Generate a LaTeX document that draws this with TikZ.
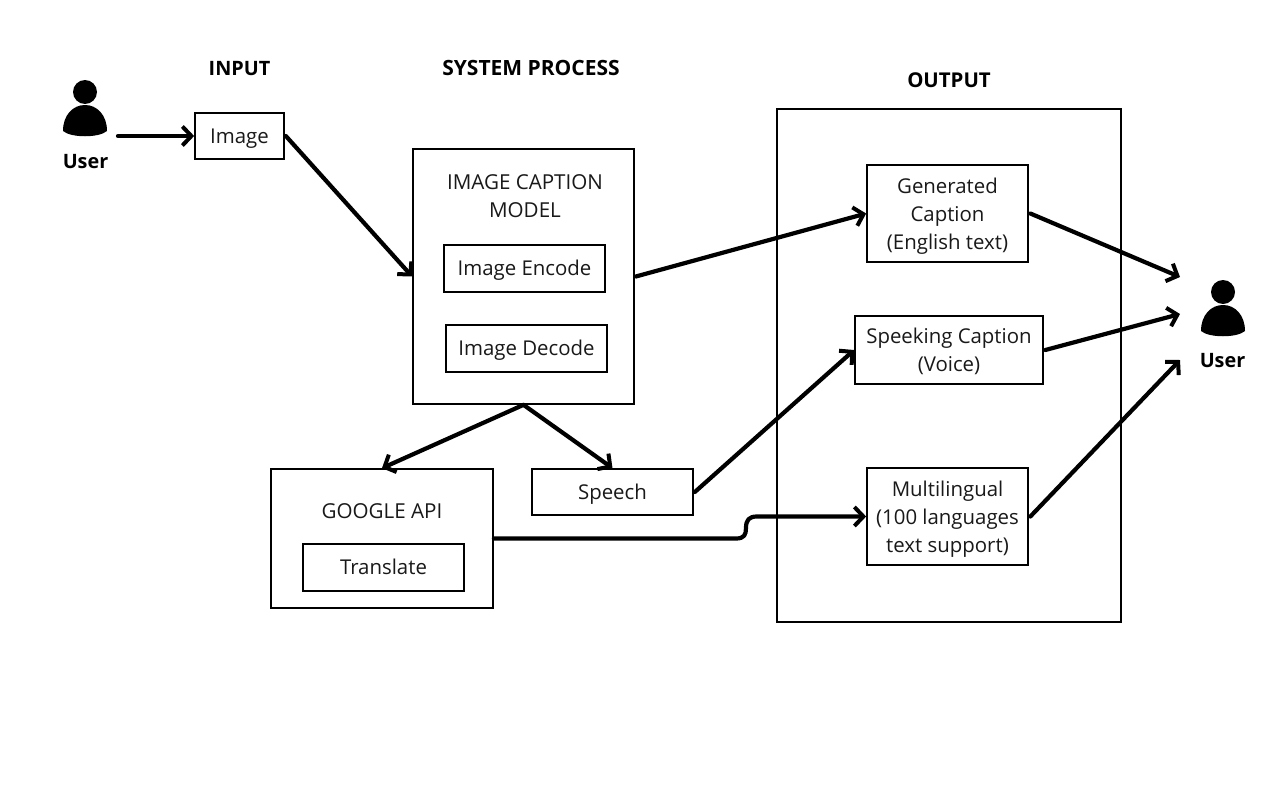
\documentclass[tikz,border=0pt]{standalone}
\usepackage{fontspec}
\setmainfont{Open Sans}
\usetikzlibrary{arrows.meta}
\tikzset{
  x=1pt,y=-1pt,
  box/.style={draw=black,line width=1.7pt,inner sep=0pt,align=center,font=\fontsize{20.4}{28}\selectfont,text=black!90},
  single/.style={text height=18pt,text depth=4pt},
  threeline/.style={text height=76pt},
  twoline/.style={text height=47pt},
  plain/.style={inner sep=0pt,align=center,font=\fontsize{20.6}{28}\selectfont,text=black!90},
  head/.style={inner sep=0pt,align=center,font=\fontsize{19.8}{24}\selectfont\bfseries},
  conn/.style={line width=4.2pt,line cap=round,line join=round,-{Straight Barb[length=9pt,width=19pt,line width=4pt]}},
  pic/.style={fill=black,draw=none}
}
\newcommand{\userfig}[2]{%
  \fill[pic] (#1,#2) circle[radius=12];
  \fill[pic] (#1-22,#2+39) .. controls (#1-22,#2+23) and (#1-12,#2+13) .. (#1,#2+13)
    .. controls (#1+12,#2+13) and (#1+22,#2+23) .. (#1+22,#2+39)
    .. controls (#1+14,#2+46) and (#1-14,#2+46) .. (#1-22,#2+39) -- cycle;
}
\begin{document}
\begin{tikzpicture}
\useasboundingbox (0,0) rectangle (1280,800);
\fill[white] (0,0) rectangle (1280,800);
% headings
\node[head] (hinput) at (239.5,68.5) {INPUT};
\node[head,font=\fontsize{21}{24}\selectfont\bfseries] (hsys) at (531,68.2) {SYSTEM PROCESS};
\node[head,font=\fontsize{20.4}{24}\selectfont\bfseries] (hout) at (949,80.3) {OUTPUT};
% users
\userfig{85}{92}
\userfig{1223}{292}
\node[head] (uleft) at (85.5,162) {User};
\node[head] (uright) at (1222.5,361) {User};
% containers
\node[box,minimum width=344pt,minimum height=513pt] (output) at (949,365.5) {};
\node[box,minimum width=221pt,minimum height=255pt] (model) at (523.5,276.5) {};
\node[box,minimum width=222pt,minimum height=139pt] (google) at (382,538.5) {};
\node[plain] (modelt) at (525,196) {IMAGE CAPTION\\MODEL};
\node[plain] (googlet) at (382,511) {GOOGLE API};
% boxes
\node[box,single,minimum width=89pt,minimum height=46pt] (image) at (239.5,136) {Image};
\node[box,single,minimum width=161pt,minimum height=47pt] (enc) at (524.5,268.5) {Image Encode};
\node[box,single,minimum width=161pt,minimum height=47pt] (dec) at (526.5,348.5) {Image Decode};
\node[box,single,minimum width=161pt,minimum height=47pt] (trans) at (383.5,567.5) {Translate};
\node[box,single,minimum width=161pt,minimum height=46pt] (speech) at (612.5,492) {Speech};
\node[box,threeline,minimum width=161pt,minimum height=97pt] (cap) at (947.5,213.5) {Generated\\Caption\\(English text)};
\node[box,twoline,minimum width=188pt,minimum height=68pt] (speak) at (949,350) {Speeking Caption\\(Voice)};
\node[box,threeline,minimum width=161pt,minimum height=97pt] (multi) at (947.5,516.5) {Multilingual\\(100 languages\\text support)};
% free ends
\coordinate (ustart) at (118,136);
\coordinate (ue1) at (1180,277);
\coordinate (ue2) at (1180,314);
\coordinate (ue3) at (1180,360);
% connectors
\draw[conn] (ustart) -- (image.west);
\draw[conn] ([xshift=1pt]image.east) -- (model.west);
\draw[conn] ([xshift=1pt]model.east) -- (cap.west);
\draw[conn] (model.south) -- (google.north);
\draw[conn] (model.south) -- (speech.north);
\draw[conn] ([xshift=1pt]speech.east) -- (speak.west);
\draw[conn] (google.east) -- (736,538.5)
  .. controls (744,538.5) and (746,535) .. (746,528)
  .. controls (746,520) and (749,516.5) .. (757,516.5) -- (multi.west);
\draw[conn] ([xshift=1.5pt]cap.east) -- (ue1);
\draw[conn] ([xshift=1.5pt]speak.east) -- (ue2);
\draw[conn] ([xshift=1.5pt]multi.east) -- (ue3);
\end{tikzpicture}
\end{document}
